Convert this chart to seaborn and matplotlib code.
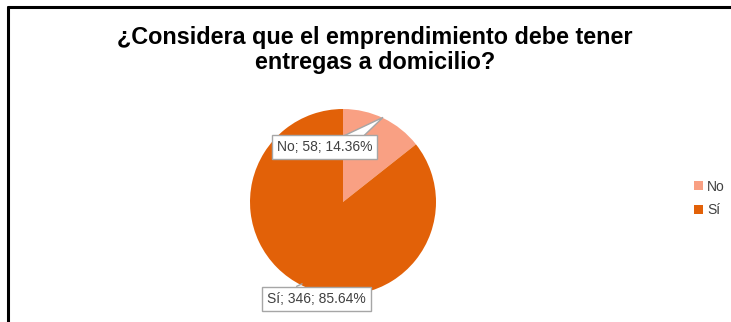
import matplotlib
matplotlib.use("Agg")
import matplotlib.pyplot as plt
from matplotlib.lines import Line2D
from matplotlib.patches import Patch, Polygon
import seaborn as sns

# Survey answers
categories = ["No", "Sí"]
counts = [58, 346]
colors = ["#F9A083", "#E26108"]
title_text = "¿Considera que el emprendimiento debe tener\nentregas a domicilio?"

sns.set_theme(style="white")
plt.rcParams["font.family"] = ["Liberation Sans", "DejaVu Sans"]

W, H = 731, 322
fig = plt.figure(figsize=(W / 100, H / 100), dpi=100)
fig.patch.set_facecolor("white")

# Pie axes: centre (343, 202) px, radius 93 px
cx, cy, r = 343, 202, 93
ax = fig.add_axes([(cx - r) / W, (H - cy - r) / H, 2 * r / W, 2 * r / H])
wedges, _ = ax.pie(counts, colors=colors, startangle=90, counterclock=False,
                   radius=1.0, wedgeprops=dict(linewidth=0))
ax.set_xlim(-1, 1)
ax.set_ylim(-1, 1)
ax.set_aspect("equal")
ax.axis("off")

total = sum(counts)
labels = [f"{c}; {v}; {v / total * 100:.2f}%" for c, v in zip(categories, counts)]
box = dict(boxstyle="square,pad=0.35", fc="white", ec="#A6A6A6", lw=1)

# "No" callout: label box plus a triangular pointer toward its slice
ax.add_patch(Polygon([(-0.10, 0.66), (0.17, 0.66), (0.43, 0.91)], closed=True,
                     fc="white", ec="#A6A6A6", lw=1, zorder=4, clip_on=False))
ax.text(-0.20, 0.59, labels[0], ha="center", va="center", fontsize=10,
        color="#404040", bbox=box, zorder=5, clip_on=False)

# "Sí" label with a leader line
ax.annotate(labels[1], xy=(-0.44, -0.88), xytext=(-0.285, -1.04),
            ha="center", va="center", fontsize=10, color="#404040",
            bbox=box, annotation_clip=False,
            arrowprops=dict(arrowstyle="-", color="#A6A6A6", lw=1,
                            relpos=(0.18, 1.0), shrinkA=0, shrinkB=0),
            zorder=5)

# Title
fig.text(375 / W, 1 - 50 / H, title_text, ha="center", va="center",
         fontsize=16.8, fontweight="bold", color="black", linespacing=1.15)

# Legend
handles = [Patch(facecolor=c, edgecolor="none") for c in colors]
fig.legend(handles, categories, loc="center left",
           bbox_to_anchor=(0.950, 1 - 198.5 / H), frameon=False,
           fontsize=10, handlelength=0.6, handleheight=0.6,
           handletextpad=0.3, labelspacing=0.7,
           borderpad=0, borderaxespad=0, labelcolor="#404040")

# Frame edges along the top and left
fig.add_artist(Line2D([7.5 / W, 1], [1 - 7 / H, 1 - 7 / H],
                      transform=fig.transFigure, color="black", lw=2.2))
fig.add_artist(Line2D([7.5 / W, 7.5 / W], [0, 1 - 7 / H],
                      transform=fig.transFigure, color="black", lw=2.2))

fig.savefig("out.png", dpi=100, facecolor="white")
